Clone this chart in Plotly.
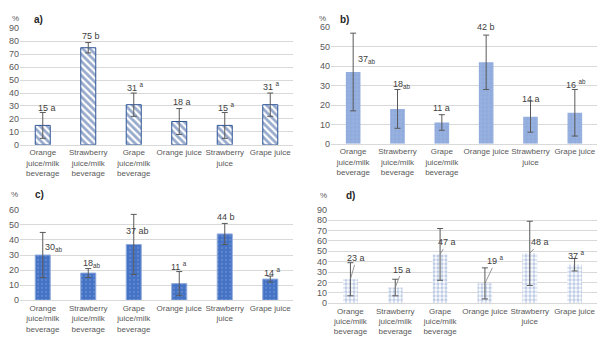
import plotly.graph_objects as go

# Beverage categories shared by the four panels
categories = [
    "Orange<br>juice/milk<br>beverage",
    "Strawberry<br>juice/milk<br>beverage",
    "Grape<br>juice/milk<br>beverage",
    "Orange juice",
    "Strawberry<br>juice",
    "Grape juice",
]

# Panel a)
a_values = [15, 75, 31, 18, 15, 31]
a_errors = [10, 4, 9, 10, 10, 9]
a_letters = ["a", "b", "a", "a", "a", "a"]

# Panel b)
b_values = [37, 18, 11, 42, 14, 16]
b_errors = [20, 10, 4, 14, 8, 12]
b_letters = ["ab", "ab", "a", "b", "a", "ab"]

# Panel c)
c_values = [30, 18, 37, 11, 44, 14]
c_errors = [15, 3, 20, 8, 7, 2]
c_letters = ["ab", "ab", "ab", "a", "b", "a"]

# Panel d)
d_values = [23, 15, 47, 19, 48, 37]
d_errors = [16, 8, 25, 15, 31, 6]
d_letters = ["a", "a", "a", "a", "a", "a"]

# How the letter is set next to the number: "" plain, "sup", "sub"
a_letter_style = ["", "", "sup", "", "sup", "sup"]
b_letter_style = ["sub", "sub", "", "", "", "sup"]
c_letter_style = ["sub", "sub", "", "sup", "", "sup"]
d_letter_style = ["", "", "", "sup", "", "sup"]

# Label offsets from the bar top, in pixels (dx right, dy up is negative)
a_offsets = [(4, -17), (3, -12), (2, -18), (3, -20), (2, -18), (1, -19)]
b_offsets = [(14, -12), (4, -24), (0, -14), (0, -35), (0, -18), (1, -29)]
c_offsets = [(11, -8), (4, -10), (4, -13), (0, -18), (1, -17), (2, -7)]
d_offsets = [(6, -21), (7, -18), (7, -12), (11, -23), (10, -11), (2, -10)]
d_leader = [True, True, True, True, True, False]

FONT = "Liberation Sans"
GREY = "#595959"
GRID = "#D9D9D9"


def label_text(v, letter, style):
    if style == "sup":
        return f"{v} <sup>{letter}</sup>"
    if style == "sub":
        return f"{v}<sub>{letter}</sub>"
    return f"{v} {letter}"


fig = go.Figure()

panels = [
    dict(vals=a_values, errs=a_errors, letters=a_letters, styles=a_letter_style,
         offs=a_offsets, ax="x", ay="y",
         marker=dict(color="white",
                     line=dict(color="#2F5597", width=1),
                     pattern=dict(shape="\\", fgcolor="#2F5597", bgcolor="white",
                                  size=5, solidity=0.55))),
    dict(vals=b_values, errs=b_errors, letters=b_letters, styles=b_letter_style,
         offs=b_offsets, ax="x2", ay="y2",
         marker=dict(color="#8FAADC",
                     line=dict(color="#8FAADC", width=0),
                     pattern=dict(shape="+", fgcolor="#A9BFE6", bgcolor="#8FAADC",
                                  size=4, solidity=0.35))),
    dict(vals=c_values, errs=c_errors, letters=c_letters, styles=c_letter_style,
         offs=c_offsets, ax="x3", ay="y3",
         marker=dict(color="#4472C4",
                     line=dict(color="#8FAADC", width=1),
                     pattern=dict(shape=".", fgcolor="#8FAADC", bgcolor="#4472C4",
                                  size=4, solidity=0.2))),
    dict(vals=d_values, errs=d_errors, letters=d_letters, styles=d_letter_style,
         offs=d_offsets, ax="x4", ay="y4",
         marker=dict(color="white",
                     line=dict(color="white", width=0),
                     pattern=dict(shape=".", fgcolor="#7F9ACB", bgcolor="white",
                                  size=4, solidity=0.55))),
]

annotations = []
for i, p in enumerate(panels):
    fig.add_trace(go.Bar(
        x=categories, y=p["vals"], xaxis=p["ax"], yaxis=p["ay"],
        width=0.33, marker=p["marker"],
        error_y=dict(type="data", array=p["errs"], color=GREY,
                     thickness=1, width=3),
        showlegend=False, hoverinfo="skip",
    ))
    for j, (cat, v) in enumerate(zip(categories, p["vals"])):
        dx, dy = p["offs"][j]
        txt = label_text(v, p["letters"][j], p["styles"][j])
        leader = (i == 3 and d_leader[j])
        if leader:
            annotations.append(dict(
                x=cat, y=v, xref=p["ax"], yref=p["ay"], text=txt,
                showarrow=True, arrowhead=0, arrowwidth=0.8, arrowcolor="#7F7F7F",
                ax=dx, ay=dy, standoff=0,
                font=dict(family=FONT, size=9, color="#404040"),
            ))
        else:
            annotations.append(dict(
                x=cat, y=v, xref=p["ax"], yref=p["ay"], text=txt,
                showarrow=False, xshift=dx, yshift=-dy,
                font=dict(family=FONT, size=9, color="#404040"),
            ))

# Panel tags and unit labels
for px, py, tag, tx in [(10, 7, "a)", 32), (322, 7, "b)", 344),
                        (9, 195, "c)", 33), (323, 196, "d)", 350)]:
    annotations.append(dict(x=px / 600, y=1 - py / 344, xref="paper", yref="paper",
                            text="%", showarrow=False,
                            font=dict(family=FONT, size=8, color=GREY)))
    annotations.append(dict(x=tx / 600, y=1 - py / 344, xref="paper", yref="paper",
                            text=f"<b>{tag}</b>", showarrow=False,
                            font=dict(family=FONT, size=10, color="#262626")))

domains = {
    "1": ([20 / 600, 293 / 600], [200 / 344, 320 / 344], 90),
    "2": ([331 / 600, 597 / 600], [201 / 344, 321 / 344], 60),
    "3": ([20 / 600, 293 / 600], [40 / 344, 133 / 344], 60),
    "4": ([328 / 600, 597 / 600], [37 / 344, 133 / 344], 90),
}

layout_axes = {}
for k, (xd, yd, ymax) in domains.items():
    suffix = "" if k == "1" else k
    layout_axes[f"xaxis{suffix}"] = dict(
        domain=xd, anchor=f"y{suffix}", showgrid=False, showline=True,
        linecolor=GRID, linewidth=1, ticks="", fixedrange=True,
        tickfont=dict(family=FONT, size=8, color=GREY),
        categoryorder="array", categoryarray=categories,
    )
    layout_axes[f"yaxis{suffix}"] = dict(
        domain=yd, anchor=f"x{suffix}", range=[0, ymax], dtick=10,
        showgrid=True, gridcolor=GRID, gridwidth=1, zeroline=False,
        showline=False, ticks="", fixedrange=True,
        tickfont=dict(family=FONT, size=9, color=GREY),
    )

fig.update_layout(
    width=600, height=344,
    margin=dict(l=0, r=0, t=0, b=0),
    paper_bgcolor="white", plot_bgcolor="white",
    bargap=0.67,
    annotations=annotations,
    font=dict(family=FONT, color=GREY),
    **layout_axes,
)

fig.write_html("out.html")
